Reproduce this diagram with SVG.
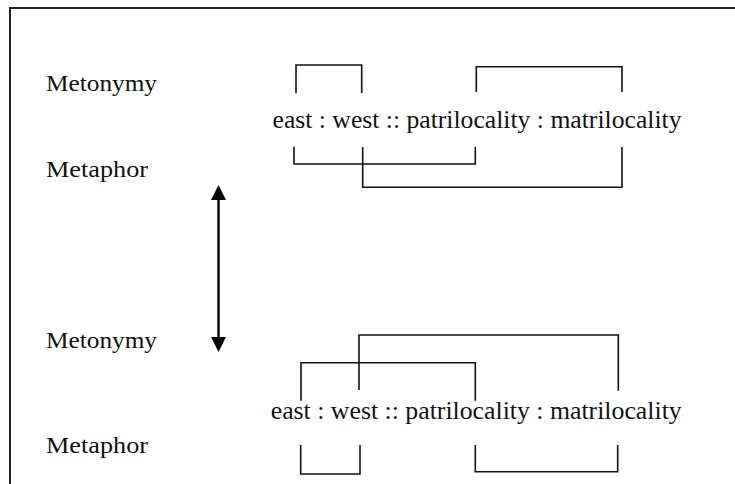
<svg xmlns="http://www.w3.org/2000/svg" width="735" height="484" viewBox="0 0 735 484">
  <style>
    text { font-family: 'Liberation Serif', 'Times New Roman', serif; fill: #111; }
    .lbl { font-size: 23px; }
    .eq { font-size: 25px; }
    .br { fill: none; stroke: #111; stroke-width: 1.6; }
    .frame { fill: none; stroke: #222; stroke-width: 2; }
  </style>
  <defs>
    <marker id="ah2" viewBox="0 0 15 15" refX="1" refY="7.5" markerWidth="15" markerHeight="15" markerUnits="userSpaceOnUse" orient="auto-start-reverse">
      <path d="M0,0 L15,7.5 L0,15 Z" fill="#000"/>
    </marker>
  </defs>
  <rect width="735" height="484" fill="#fff"/>
  <path class="frame" d="M10,486 V8 H737"/>

  <g id="labels">
    <text class="lbl" x="46" y="91" textLength="111" lengthAdjust="spacingAndGlyphs">Metonymy</text>
    <text class="lbl" x="46" y="177" textLength="102" lengthAdjust="spacingAndGlyphs">Metaphor</text>
    <text class="lbl" x="46" y="348" textLength="111" lengthAdjust="spacingAndGlyphs">Metonymy</text>
    <text class="lbl" x="46" y="453" textLength="102" lengthAdjust="spacingAndGlyphs">Metaphor</text>
  </g>

  <g id="top-analogy">
    <text class="eq" x="272.5" y="128.3" textLength="409" lengthAdjust="spacingAndGlyphs">east : west :: patrilocality : matrilocality</text>
  </g>
  <g id="bottom-analogy">
    <text class="eq" x="270.7" y="419.3" textLength="411" lengthAdjust="spacingAndGlyphs">east : west :: patrilocality : matrilocality</text>
  </g>

  <g id="connectors">
    <path class="br" d="M296,93 V65 H361.7 V93"/>
    <path class="br" d="M476.3,92 V66.7 H622 V92"/>
    <path class="br" d="M294,146.7 V164 H475.3 V146.7"/>
    <path class="br" d="M362.7,147 V187.3 H622 V147"/>
    <path class="br" d="M301,400.7 V362.7 H475.3 V400.7"/>
    <path class="br" d="M359,390 V335 H618.3 V390.7"/>
    <path class="br" d="M300.7,445 V474 H360 V445"/>
    <path class="br" d="M475.3,445 V471.7 H617.7 V445"/>
    <line x1="218.5" y1="199" x2="218.5" y2="338" stroke="#000" stroke-width="2.4" marker-start="url(#ah2)" marker-end="url(#ah2)"/>
  </g>
</svg>
